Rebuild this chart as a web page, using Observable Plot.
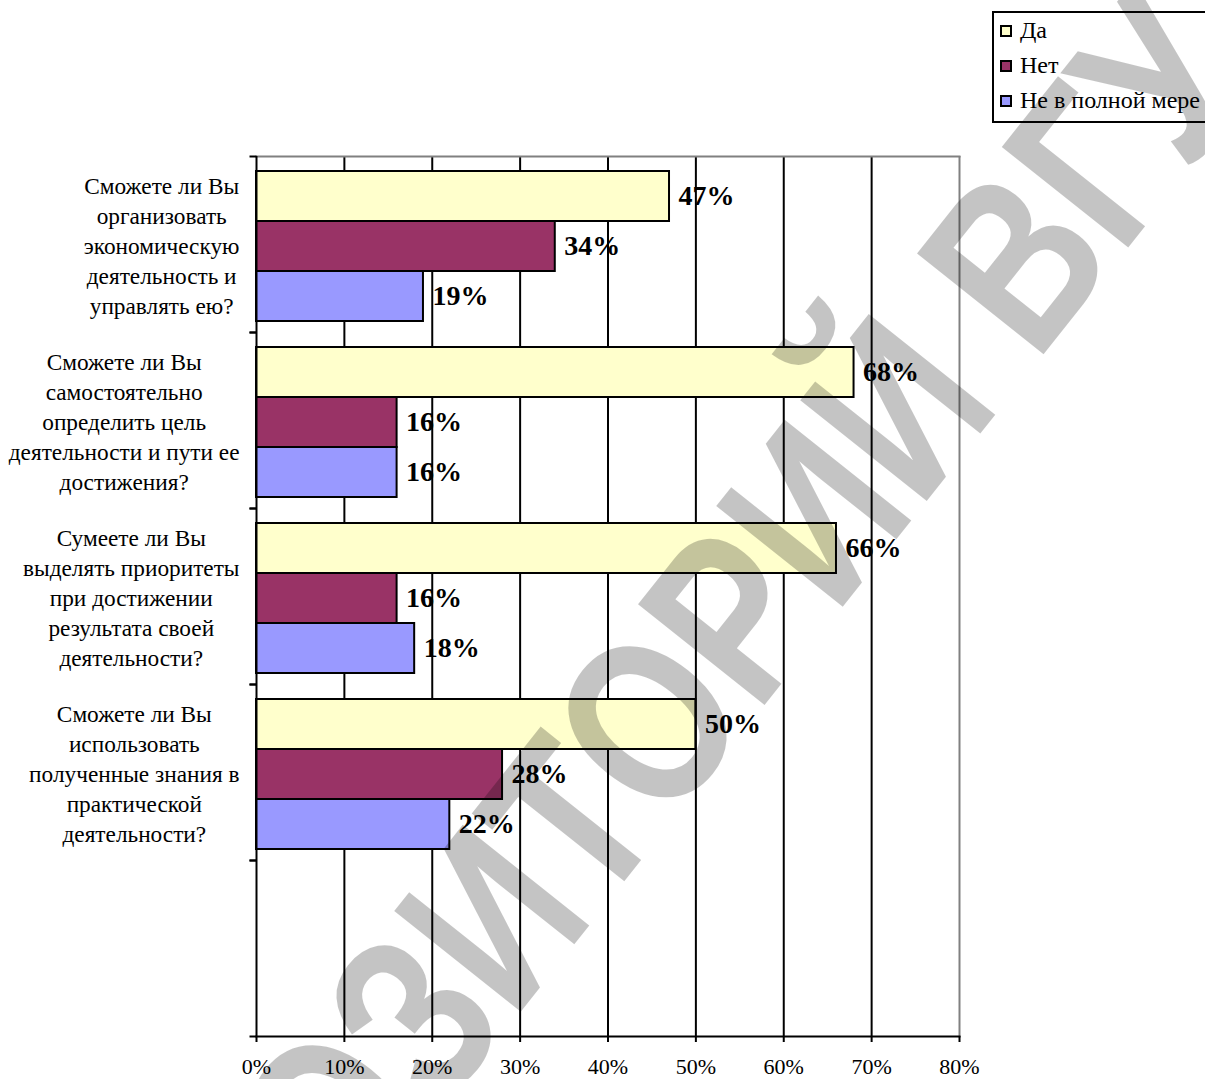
<!DOCTYPE html>
<html>
<head>
<meta charset="utf-8">
<script src="https://cdn.jsdelivr.net/npm/d3@7"></script>
<script src="https://cdn.jsdelivr.net/npm/@observablehq/plot@0.6"></script>
<style>
html, body { margin: 0; padding: 0; background: #fff; }
#wrap { position: relative; width: 1205px; height: 1079px; overflow: hidden; background: #fff; }
#legend { position: absolute; left: 992px; top: 11px; width: 240px; height: 108px; border: 2px solid #000; background: #fff;
  font-family: "Liberation Serif", "Times New Roman", serif; font-size: 24px; color: #000; }
.item { display: flex; align-items: center; height: 35px; padding-left: 6px; white-space: nowrap; }
.sw { width: 8px; height: 8px; border: 2px solid #000; margin-right: 8px; flex: none; }
#wm { position: absolute; left: 0; top: 0; pointer-events: none; }
</style>
</head>
<body>
<div id="wrap"></div>
<script>
// ---------- data ----------
const categories = [
  "Сможете ли Вы\nорганизовать\nэкономическую\nдеятельность и\nуправлять ею?",
  "Сможете ли Вы\nсамостоятельно\nопределить цель\nдеятельности и пути ее\nдостижения?",
  "Сумеете ли Вы\nвыделять приоритеты\nпри достижении\nрезультата своей\nдеятельности?",
  "Сможете ли Вы\nиспользовать\nполученные знания в\nпрактической\nдеятельности?"
];
const emptyBand = " ";
const seriesNames = ["Да", "Нет", "Не в полной мере"];
const yesValues = [47, 68, 66, 50];
const noValues = [34, 16, 16, 28];
const partialValues = [19, 16, 18, 22];
const xTicks = [0, 10, 20, 30, 40, 50, 60, 70, 80];
const seriesColors = ["#FFFFCC", "#993366", "#9999FF"];
const watermarkText = "РЕПОЗИТОРИЙ ВГУ";

// ---------- table ----------
const seriesValues = [yesValues, noValues, partialValues];
const rows = [];
categories.forEach((c, i) => {
  seriesValues.forEach((arr, j) => rows.push({category: c, series: seriesNames[j], value: arr[i]}));
});
const bands = [...categories, emptyBand];

const serif = "'Liberation Serif', 'Times New Roman', serif";
const labelSize = 23.3;

// widest line of each category label (block right-aligned to the axis, lines centred)
const cv = document.createElement("canvas").getContext("2d");
cv.font = `${labelSize}px ${serif}`;
const blockWidth = c => Math.max(...c.split("\n").map(s => cv.measureText(s).width));

const hTick = {draw(ctx) { ctx.moveTo(-7, 0); ctx.lineTo(0, 0); }};

const labelMarks = bands.map(c =>
  Plot.text([c], {
    fy: d => d, text: d => d, frameAnchor: "left", textAnchor: "middle",
    dx: -(17 + blockWidth(c) / 2), fontSize: labelSize, lineHeight: 30 / labelSize, fill: "#000"
  })
);

const plot = Plot.plot({
  width: 1205,
  height: 1079,
  marginLeft: 256,
  marginRight: 246,
  marginTop: 155,
  marginBottom: 42,
  style: {fontFamily: serif, background: "#fff", overflow: "visible", color: "#000"},
  x: {domain: [0, 80], axis: null},
  y: {domain: seriesNames, axis: null, paddingInner: 0, paddingOuter: 0.25, align: 0.58},
  fy: {domain: bands, axis: null, padding: 0},
  color: {domain: seriesNames, range: seriesColors},
  marks: [
    ...labelMarks,
    Plot.ruleX(xTicks.slice(1, -1), {stroke: "#000", strokeWidth: 2}),
    Plot.ruleX([80], {stroke: "#808080", strokeWidth: 2}),
    Plot.frame({anchor: "top", facetAnchor: "top", stroke: "#808080", strokeWidth: 2}),
    Plot.barX(rows, {fy: "category", y: "series", x: "value", fill: "series", stroke: "#000", strokeWidth: 2}),
    Plot.text(rows, {fy: "category", y: "series", x: "value", text: d => d.value + "%", textAnchor: "start",
      dx: 9, fontSize: 28, fontWeight: "bold", fill: "#000"}),
    Plot.ruleX([0], {stroke: "#000", strokeWidth: 2}),
    Plot.frame({anchor: "bottom", facetAnchor: "bottom", stroke: "#000", strokeWidth: 2}),
    Plot.dot([0], {frameAnchor: "top-left", symbol: hTick, stroke: "#000", strokeWidth: 2}),
    Plot.dot([0], {frameAnchor: "bottom-left", symbol: hTick, stroke: "#000", strokeWidth: 2}),
    Plot.axisX({ticks: xTicks, tickSize: 6, tickPadding: 16, tickFormat: d => d + "%", fontSize: 22,
      label: null, stroke: "#000", strokeWidth: 2, strokeOpacity: 1, fill: "#000"})
  ]
});

const wrap = document.getElementById("wrap");
wrap.appendChild(plot);

// legend
const legend = document.createElement("div");
legend.id = "legend";
seriesNames.forEach((s, i) => {
  const it = document.createElement("div");
  it.className = "item";
  const sw = document.createElement("span");
  sw.className = "sw";
  sw.style.background = seriesColors[i];
  const tx = document.createElement("span");
  tx.textContent = s;
  it.appendChild(sw); it.appendChild(tx);
  legend.appendChild(it);
});
wrap.appendChild(legend);

// watermark overlay: condensed tall letters, "З" and "В" placed where the reference shows them
const wmSize = 235;
cv.font = `bold ${wmSize}px 'Liberation Sans', Arial, sans-serif`;
const mw = s => cv.measureText(s).width;
const zX = mw("РЕПО") + mw("З") / 2;
const vX = mw("РЕПОЗИТОРИЙ ") + mw("В") / 2;
const pZ = [410, 1015], pV = [1012, 258];
const dist = Math.hypot(pV[0] - pZ[0], pV[1] - pZ[1]);
const sx = dist / (vX - zX);
const th = Math.atan2(pV[1] - pZ[1], pV[0] - pZ[0]);
const localX = zX * sx, localY = -0.36 * wmSize;
const ox = pZ[0] - (localX * Math.cos(th) - localY * Math.sin(th));
const oy = pZ[1] - (localX * Math.sin(th) + localY * Math.cos(th));
const wm = d3.create("svg").attr("id", "wm").attr("width", 1205).attr("height", 1079);
wm.append("text")
  .attr("transform", `translate(${ox} ${oy}) rotate(${th * 180 / Math.PI}) scale(${sx} 1)`)
  .attr("font-family", "'Liberation Sans', Arial, sans-serif")
  .attr("font-weight", "bold")
  .attr("font-size", wmSize)
  .attr("fill", "#000").attr("fill-opacity", 0.23)
  .text(watermarkText);
wrap.appendChild(wm.node());
</script>
</body>
</html>
